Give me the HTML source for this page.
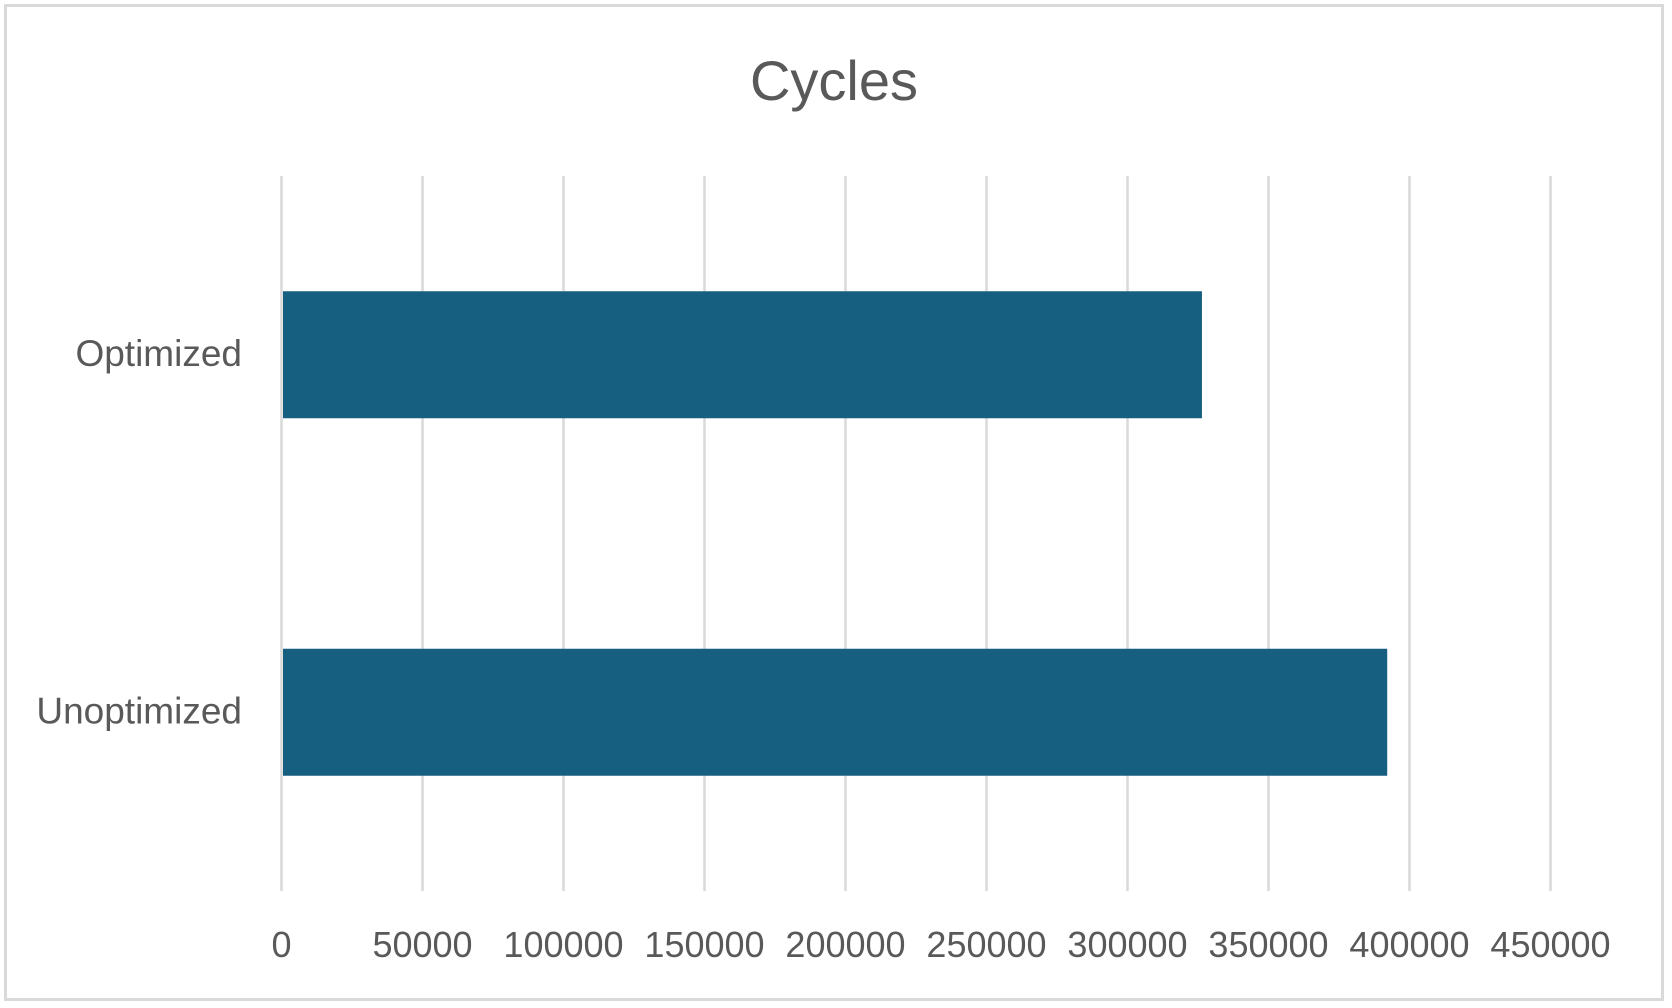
<!DOCTYPE html>
<html><head><meta charset="utf-8"><style>
html,body{margin:0;padding:0;background:#fff;}
svg{display:block;}
text{font-family:"Liberation Sans",sans-serif;fill:#595959;}
</style></head><body>
<svg id="chart" width="1672" height="1008" viewBox="0 0 1672 1008" xmlns="http://www.w3.org/2000/svg">
<rect x="5.5" y="5.5" width="1657" height="994" fill="#fff" stroke="#d9d9d9" stroke-width="3"/>
<text x="834" y="100" font-size="56" text-anchor="middle">Cycles</text>
<g id="grid"></g><g id="bars"></g><g id="xlabels"></g><g id="ylabels"></g>
</svg>
<script>
const categories = ["Optimized", "Unoptimized"];
const values = [326400, 392100];
const ticks = [0, 50000, 100000, 150000, 200000, 250000, 300000, 350000, 400000, 450000];
const tickLabels = ["0","50000","100000","150000","200000","250000","300000","350000","400000","450000"];

const NS = "http://www.w3.org/2000/svg";
const x0 = 281.5, x1 = 1550.5, xMax = 450000;
const plotTop = 176, plotBottom = 891;
function xs(v){ return x0 + (v / xMax) * (x1 - x0); }
const band = (plotBottom - plotTop) / categories.length;
function yc(i){ return plotTop + band * (i + 0.5); }
const barH = 127;

const grid = document.getElementById('grid');
ticks.forEach((t, i) => {
  const l = document.createElementNS(NS, 'line');
  l.setAttribute('x1', xs(t)); l.setAttribute('x2', xs(t));
  l.setAttribute('y1', plotTop); l.setAttribute('y2', plotBottom);
  l.setAttribute('stroke', '#d9d9d9'); l.setAttribute('stroke-width', '2.5');
  
  
  grid.appendChild(l);
  const tx = document.createElementNS(NS, 'text');
  tx.setAttribute('x', xs(t)); tx.setAttribute('y', 957);
  tx.setAttribute('font-size', '36'); tx.setAttribute('text-anchor', 'middle');
  tx.textContent = tickLabels[i];
  
  
  document.getElementById('xlabels').appendChild(tx);
});

const bars = document.getElementById('bars');
categories.forEach((c, i) => {
  const r = document.createElementNS(NS, 'rect');
  r.setAttribute('x', x0 + 1.5);
  r.setAttribute('y', yc(i) - barH / 2);
  r.setAttribute('width', xs(values[i]) - x0 - 1.5);
  r.setAttribute('height', barH);
  r.setAttribute('fill', '#175f80');
  
  
  bars.appendChild(r);
  const tx = document.createElementNS(NS, 'text');
  tx.setAttribute('x', 242); tx.setAttribute('y', yc(i) + 11);
  tx.setAttribute('font-size', '37'); tx.setAttribute('text-anchor', 'end');
  tx.textContent = c;
  
  
  document.getElementById('ylabels').appendChild(tx);
});
</script>
</body></html>
